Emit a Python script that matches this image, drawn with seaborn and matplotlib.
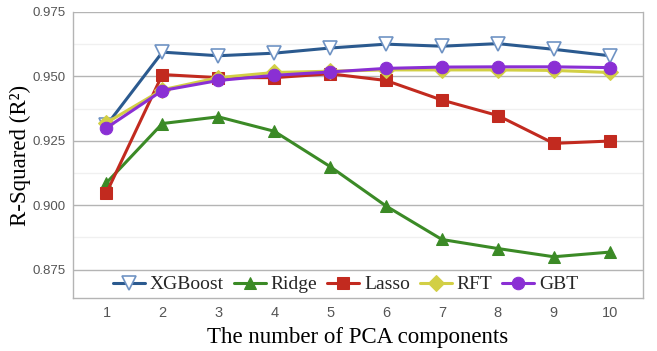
import numpy as np
import pandas as pd
import matplotlib.pyplot as plt
import seaborn as sns
from matplotlib.ticker import MultipleLocator

# Data
components = [1, 2, 3, 4, 5, 6, 7, 8, 9, 10]
xgboost = [0.931, 0.9594, 0.958, 0.959, 0.961, 0.9625, 0.9617, 0.9627, 0.9605, 0.958]
ridge = [0.9087, 0.9317, 0.9343, 0.9287, 0.915, 0.8997, 0.8867, 0.8832, 0.8800, 0.8818]
lasso = [0.9048, 0.9507, 0.9495, 0.9495, 0.951, 0.9484, 0.9408, 0.9348, 0.9240, 0.9249]
rft = [0.932, 0.9448, 0.9495, 0.9515, 0.952, 0.9525, 0.9525, 0.9525, 0.9523, 0.9515]
gbt = [0.930, 0.9445, 0.9484, 0.9504, 0.9517, 0.9531, 0.9536, 0.9537, 0.9537, 0.9534]

models = ["XGBoost", "Ridge", "Lasso", "RFT", "GBT"]
series = [xgboost, ridge, lasso, rft, gbt]
colors = ["#2b5a8f", "#3b8a26", "#c22a1f", "#d2cf45", "#8a2fd4"]
markers = ["v", "^", "s", "D", "o"]

sns.set_style("white")

fig, ax = plt.subplots(figsize=(6.57, 3.51), dpi=100)
fig.subplots_adjust(left=0.111, right=0.979, bottom=0.151, top=0.966)

for name, vals, col, mk in zip(models, series, colors, markers):
    kw = dict(color=col, marker=mk, markersize=9, linewidth=2.2,
              markeredgecolor=col, label=name)
    if name == "XGBoost":
        kw.update(markerfacecolor="white", markeredgecolor="#6f93c4",
                  markeredgewidth=1.2, markersize=10)
    if name == "RFT":
        kw.update(markersize=8)
    sns.lineplot(x=components, y=vals, ax=ax, **kw)

ax.set_xlim(0.4, 10.6)
ax.set_ylim(0.864, 0.975)
ax.set_xticks(components)
ax.yaxis.set_minor_locator(MultipleLocator(0.0125))
ax.set_yticks([0.875, 0.900, 0.925, 0.950, 0.975])
ax.set_yticklabels(["0.875", "0.900", "0.925", "0.950", "0.975"])

ax.grid(axis="y", which="major", color="#b4b4b4", linewidth=1)
ax.grid(axis="y", which="minor", color="#f0f0f0", linewidth=1)
ax.set_axisbelow(True)

for side in ["left", "bottom", "right"]:
    ax.spines[side].set_color("#b4b4b4")
    ax.spines[side].set_linewidth(1)
ax.spines["top"].set_visible(False)

ax.tick_params(axis="both", which="major", direction="out", length=3,
               color="#9a9a9a", labelcolor="#555555", labelsize=9.5, pad=2)
ax.tick_params(axis="x", which="major", labelsize=10.5, pad=3)
ax.tick_params(axis="y", which="minor", length=0)
for lbl in ax.get_xticklabels() + ax.get_yticklabels():
    lbl.set_family(["Liberation Sans", "DejaVu Sans"])

ax.set_xlabel("The number of PCA components", family="Liberation Serif",
              fontsize=16.5, color="black", labelpad=5)
ax.set_ylabel("R-Squared (R²)", family="Liberation Serif",
              fontsize=16.5, color="black", labelpad=1)

ax.legend(loc="lower center", bbox_to_anchor=(0.478, -0.045), ncol=5,
          frameon=False, prop={"family": "Liberation Serif", "size": 14},
          handlelength=1.65, columnspacing=0.5, handletextpad=0.25)

fig.savefig("out.png", dpi=100)
